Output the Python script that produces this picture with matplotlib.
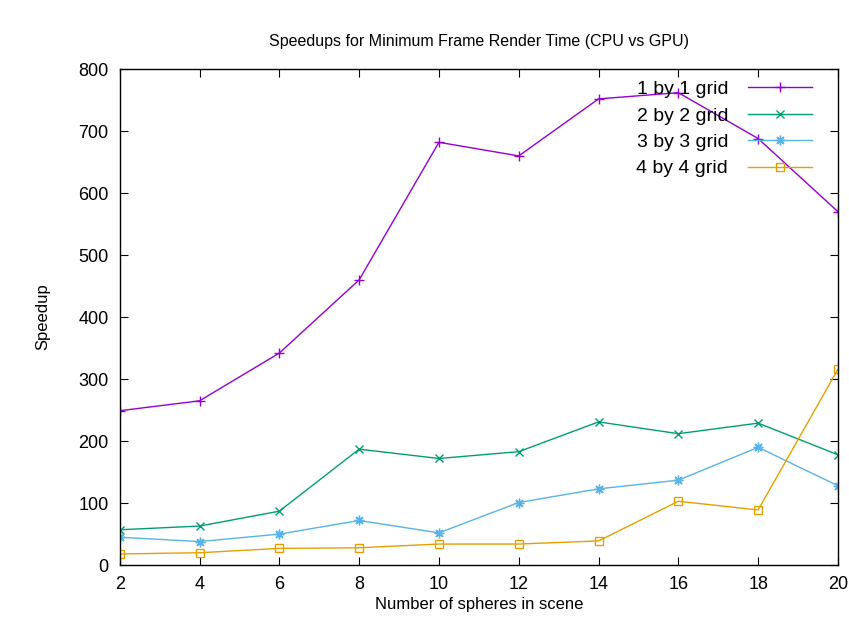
import matplotlib.pyplot as plt
import numpy as np

plt.rcParams['font.family'] = ['Liberation Sans', 'DejaVu Sans']

spheres = [2, 4, 6, 8, 10, 12, 14, 16, 18, 20]
grid1 = [249, 265, 342, 460, 682, 660, 752, 762, 688, 570]
grid2 = [57, 63, 87, 187, 172, 183, 231, 212, 229, 178]
grid3 = [45, 38, 50, 72, 52, 101, 123, 137, 190, 128]
grid4 = [18, 20, 27, 28, 34, 34, 39, 103, 89, 316]
labels = ['1 by 1 grid', '2 by 2 grid', '3 by 3 grid', '4 by 4 grid']

fig = plt.figure(figsize=(8.49, 6.4), dpi=100)
ax = fig.add_axes([0.141, 0.117, 0.846, 0.775])

ax.plot(spheres, grid1, color='#9400d3', lw=1, marker='+', ms=7, mew=1, label=labels[0])
ax.plot(spheres, grid2, color='#009e73', lw=1, marker='x', ms=6, mew=1, label=labels[1])
ax.plot(spheres, grid3, color='#56b4e9', lw=1, marker=(8, 2, 0), ms=7, mew=1, label=labels[2])
ax.plot(spheres, grid4, color='#e69f00', lw=1, marker='s', ms=6, mew=1, mfc='none', label=labels[3])

ax.set_xlim(2, 20)
ax.set_ylim(0, 800)
ax.set_xticks(np.arange(2, 21, 2))
ax.set_yticks(np.arange(0, 801, 100))
ax.tick_params(direction='in', top=True, right=True, length=6, labelsize=13, pad=8)
for s in ax.spines.values():
    s.set_linewidth(1)

ax.set_xlabel('Number of spheres in scene', fontsize=12, labelpad=3)
ax.set_ylabel('Speedup', fontsize=12, labelpad=20)
ax.set_title('Speedups for Minimum Frame Render Time (CPU vs GPU)', fontsize=11.5, pad=17)

leg = ax.legend(loc='upper right', bbox_to_anchor=(0.988, 1.012), frameon=False,
                markerfirst=False, fontsize=14, handlelength=3.3, labelspacing=0.45,
                handletextpad=1.0)

fig.savefig('out.png')
